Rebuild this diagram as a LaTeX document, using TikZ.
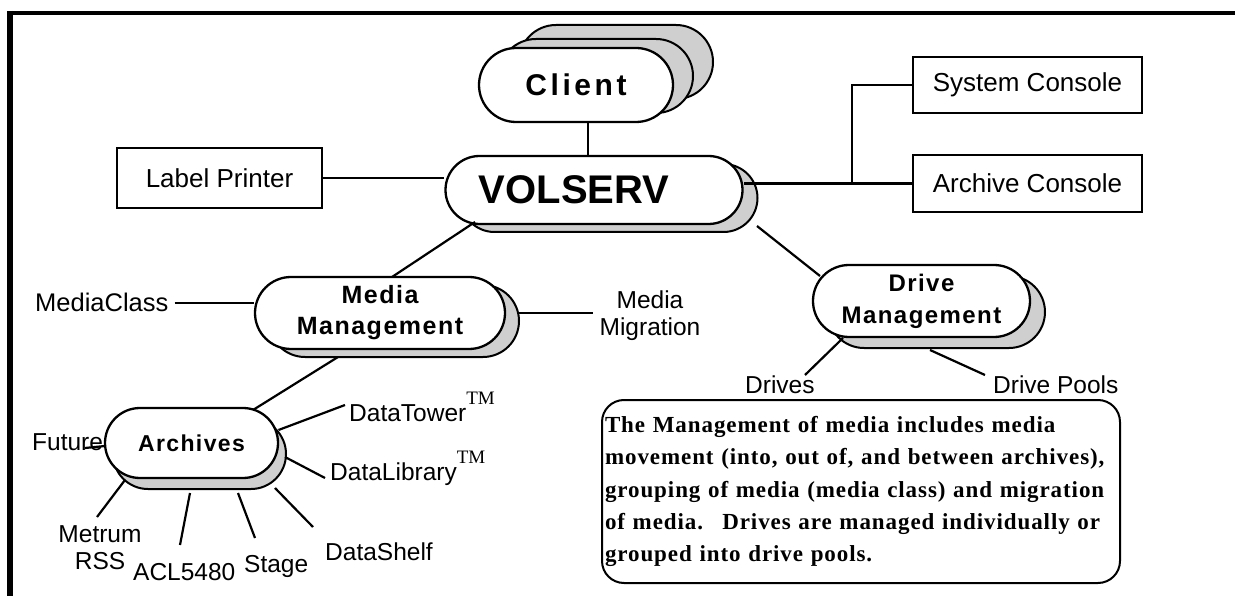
\documentclass[tikz,border=0pt]{standalone}
\usepackage{fontspec}
\setmainfont{Liberation Sans}
\newfontfamily\pillA[LetterSpace=12]{Liberation Sans}
\newfontfamily\pillB[LetterSpace=6]{Liberation Sans}
\newfontfamily\notefont[LetterSpace=4]{Liberation Serif}
\newfontfamily\tmfont{Liberation Serif}
\usetikzlibrary{shapes.misc,shadows,calc}
\newcommand\TMark{\raisebox{17pt}{\tmfont\fontsize{19}{19}\selectfont TM}}
\tikzset{
  pill/.style={rounded rectangle, draw, line width=2.3pt, fill=white, inner sep=0pt, align=center},
  shd/.style 2 args={general shadow={shadow xshift=#1pt, shadow yshift=#2pt, fill=gray!38, draw=black, line width=2pt}},
  boxnode/.style={draw, line width=2pt, inner sep=0pt, minimum width=229pt, minimum height=57pt, font=\fontsize{26}{28}\selectfont},
  lab/.style={inner sep=0pt, font=\fontsize{24.5}{27}\selectfont},
  biglab/.style={inner sep=0pt, font=\fontsize{25.5}{28}\selectfont},
  conn/.style={line width=2.2pt}
}
\begin{document}
\begin{tikzpicture}[x=1pt,y=-1pt]
\useasboundingbox (0,0) rectangle (1235,596);
% frame
\draw[line width=4pt] (7,13) -- (1235,13);
\draw[line width=6pt] (10,11) -- (10,596);

% main nodes
\node[pill, minimum width=194pt, minimum height=74pt, shd={40}{23}, shd={20}{9},
      font=\pillA\bfseries\fontsize{30}{32}\selectfont] (client) at (576,85) {Client};
\node[pill, minimum width=297pt, minimum height=68pt, shd={15}{-8},
      font=\bfseries\fontsize{40}{42}\selectfont] (volserv) at (594,190) {VOLSERV\hspace*{40pt}};
\node[pill, minimum width=250pt, minimum height=72pt, shd={14}{-8},
      font=\pillB\bfseries\fontsize{25}{31}\selectfont] (mm) at (380,313) {Media\\Management};
\node[pill, minimum width=217pt, minimum height=72pt, shd={15}{-11},
      font=\pillB\bfseries\fontsize{24}{32}\selectfont] (dm) at (921.5,301) {Drive\\Management};
\node[pill, minimum width=173pt, minimum height=70pt, shd={8}{-11},
      font=\pillB\bfseries\fontsize{23}{26}\selectfont] (arch) at (191.5,443) {Archives};

% boxes
\node[boxnode, minimum width=205pt, minimum height=60pt] (lp) at (219.5,178) {Label Printer};
\node[boxnode, minimum height=56pt] (sc) at (1027.5,85) {System Console};
\node[boxnode] (ac) at (1027.5,183.5) {Archive Console};

% labels
\node[biglab, anchor=base west] (mclass) at (35,312) {MediaClass};
\node[lab, align=center] (mmig) at (650,316) {Media\\Migration};
\node[lab, anchor=base west] (future) at (32,450) {Future};
\node[lab, anchor=base west] (dtower) at (349,421) {DataTower\TMark};
\node[lab, anchor=base west] (dlib) at (330,480) {DataLibrary\TMark};
\node[lab, anchor=base west] (dshelf) at (325,560) {DataShelf};
\node[lab, anchor=base west] (stage) at (244,572) {Stage};
\node[lab, anchor=base west] (acl) at (133,580) {ACL5480};
\node[lab, align=center] (metrum) at (100,548) {Metrum\\RSS};
\node[lab, anchor=base west] (drives) at (745,393) {Drives};
\node[lab, anchor=base west] (dpools) at (993,393) {Drive Pools};

% note
\node[draw, line width=2pt, rounded corners=22pt, minimum width=518pt, minimum height=183pt,
      text width=512pt, inner xsep=3pt, align=left,
      font=\notefont\bfseries\fontsize{23}{32.3}\selectfont] (note) at (861,491.5)
{The Management of media includes media\\
movement (into, out of, and between archives),\\
grouping of media (media class) and migration\\
of media.~ Drives are managed individually or\\
grouped into drive pools.};

% connectors
\draw[conn] ([xshift=12pt]client.south) -- ([xshift=12pt]client.south |- volserv.north);
\draw[conn] (lp.east) -- (volserv.west |- lp.east);
\draw[conn] (ac.west) -- (ac.west -| volserv.east);
\draw[conn] (sc.west) -| ($(ac.west)+(-60,0)$);
\draw[conn] ($(volserv)+(-119,32)$) -- ($(mm)+(12,-36)$);
\draw[conn] ($(volserv)+(163,36)$) -- ($(dm)+(-101.5,-25)$);
\draw[conn] ([xshift=6pt]mclass.east) -- (mm.west |- mclass.east);
\draw[conn] ($(mm)+(138,0)$) -- ($(mmig.west)+(-6,-3)$);
\draw[conn] ($(mm)+(-42,44)$) -- ($(arch)+(61.5,-33)$);
\draw[conn] ($(future.base west)+(53,-2)$) -- ($(arch)+(-86.5,3)$);
\draw[conn] ($(arch)+(87,-13)$) -- ($(dtower.base west)+(-4,-16)$);
\draw[conn] ($(arch)+(93.5,14)$) -- ($(dlib.base west)+(-5,-2)$);
\draw[conn] ($(arch)+(83.5,45)$) -- ($(dshelf.base west)+(-12,-33)$);
\draw[conn] ($(arch)+(46.5,50)$) -- ($(stage.base west)+(11,-34)$);
\draw[conn] ($(arch)+(-1.5,50)$) -- ($(acl.base west)+(47,-35)$);
\draw[conn] ($(arch)+(-66.5,37)$) -- ($(metrum)+(-3,-31)$);
\draw[conn] ($(dm)+(-78.5,37)$) -- ($(drives.base west)+(60,-18)$);
\draw[conn] ($(dm)+(8.5,49)$) -- ($(dpools.base west)+(-8,-18)$);
\end{tikzpicture}
\end{document}
